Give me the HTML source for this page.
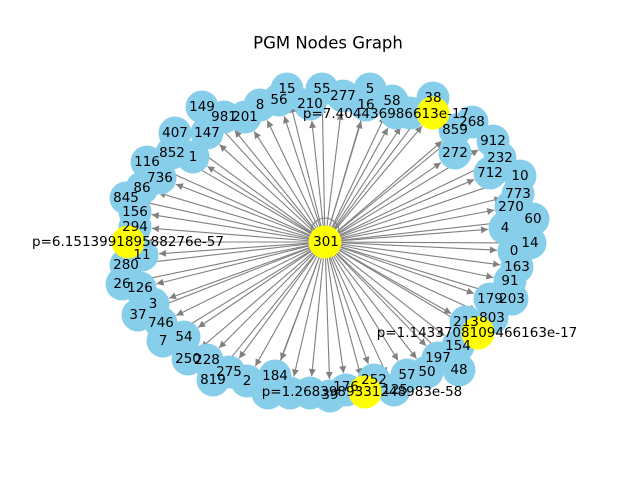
<!DOCTYPE html>
<html><head><meta charset="utf-8"><style>
body{margin:0;background:#fff;}
svg text{font-family:"DejaVu Sans","Liberation Sans",sans-serif;font-size:13.5px;fill:#000;text-anchor:middle;dominant-baseline:central;}
</style></head><body>
<svg id="s" width="640" height="480" viewBox="0 0 640 480" xmlns="http://www.w3.org/2000/svg">
<defs><marker id="a" viewBox="0 0 10 10" refX="10" refY="5" markerWidth="9" markerHeight="7" orient="auto" markerUnits="userSpaceOnUse"><path d="M0,0L10,5L0,10z" fill="#808080"/></marker></defs>
<text x="328" y="43" style="font-size:16.5px">PGM Nodes Graph</text>
<g id="lines" stroke="#808080" stroke-width="1.1"></g>
<path d="M311,232 A14,14 0 0 1 339,232" fill="none" stroke="#808080" stroke-width="1.1"/>
<g id="nodes"></g>
<g id="labels">
<text x="287" y="89">15</text><text x="322" y="89">55</text><text x="370" y="89">5</text><text x="343" y="96">277</text>
<text x="279" y="100">56</text><text x="310" y="104">210</text><text x="366" y="105">16</text><text x="392" y="101">58</text>
<text x="433" y="98">38</text><text x="260" y="105">8</text><text x="245" y="117">201</text><text x="224" y="117">981</text>
<text x="202" y="107">149</text><text x="207" y="133">147</text><text x="175" y="133">407</text><text x="172" y="153">852</text>
<text x="193" y="157">1</text><text x="147" y="162">116</text><text x="160" y="178">736</text><text x="142" y="188">86</text>
<text x="126" y="198">845</text><text x="135" y="212">156</text><text x="135" y="227">294</text>
<text x="142" y="255">11</text><text x="126" y="265">280</text><text x="122" y="284">26</text><text x="140" y="288">126</text>
<text x="153" y="304">3</text><text x="138" y="315">37</text><text x="161" y="323">746</text><text x="184" y="337">54</text>
<text x="163" y="341">7</text><text x="188" y="359">250</text><text x="207" y="360">228</text><text x="213" y="380">819</text>
<text x="229" y="372">275</text><text x="247" y="381">2</text><text x="275" y="376">184</text>
<text x="455" y="130">859</text><text x="455" y="153">272</text><text x="472" y="122">268</text><text x="493" y="141">912</text>
<text x="500" y="158">232</text><text x="490" y="173">712</text><text x="520" y="176">10</text><text x="518" y="194">773</text>
<text x="511" y="207">270</text><text x="533" y="219">60</text><text x="505" y="228">4</text><text x="530" y="243">14</text>
<text x="514" y="251">0</text><text x="517" y="267">163</text><text x="510" y="281">91</text><text x="490" y="299">179</text>
<text x="512" y="299">203</text><text x="492" y="318">803</text><text x="466" y="322">213</text><text x="458" y="346">154</text>
<text x="438" y="358">197</text><text x="459" y="370">48</text><text x="427" y="372">50</text><text x="407" y="375">57</text>
<text x="374" y="380">252</text><text x="395" y="390">125</text><text x="346" y="387">176</text><text x="330" y="395">39</text>
<text x="326" y="242">301</text>
<text x="386" y="114">p=7.404436986613e-17</text>
<text x="128" y="242">p=6.151399189588276e-57</text>
<text x="477" y="333">p=1.1433708109466163e-17</text>
<text x="362" y="392">p=1.2683989331248983e-58</text>
</g>
</svg>
<script>
var N=[[287,89],[322,89],[370,89],[343,96],[279,100],[310,104],[366,105],[392,101],[433,98],[260,105],[245,117],[224,117],[202,107],[207,133],[175,133],[172,153],[193,157],[147,162],[160,178],[142,188],[126,198],[135,212],[135,227],[142,255],[126,265],[122,284],[140,288],[153,304],[138,315],[161,323],[184,337],[163,341],[188,359],[207,360],[213,380],[229,372],[247,381],[275,376],[268,393],[290,393],[310,393],[330,396],[346,390],[394,390],[410,113],[396,113],[455,130],[455,153],[472,122],[493,141],[500,158],[490,173],[520,176],[518,194],[511,207],[533,219],[505,228],[530,243],[514,251],[517,267],[510,281],[490,299],[512,299],[492,318],[466,322],[458,346],[438,358],[459,370],[427,372],[407,375],[374,380]];
var Y=[[433,113],[128,242],[478,333],[365,392]];
var ns="http://www.w3.org/2000/svg",L=document.getElementById('lines'),G=document.getElementById('nodes');
var cx=325,cy=242;
function ln(p){var dx=p[0]-cx,dy=p[1]-cy,d=Math.hypot(dx,dy),r=17;var l=document.createElementNS(ns,'line');l.setAttribute('x1',cx);l.setAttribute('y1',cy);l.setAttribute('x2',p[0]-dx/d*r);l.setAttribute('y2',p[1]-dy/d*r);l.setAttribute('marker-end','url(#a)');L.appendChild(l);}
function c(p,f){var e=document.createElementNS(ns,'circle');e.setAttribute('cx',p[0]);e.setAttribute('cy',p[1]);e.setAttribute('r',16.5);e.setAttribute('fill',f);G.appendChild(e);}
N.forEach(ln);Y.forEach(ln);
N.forEach(function(p){c(p,'#87ceeb')});Y.forEach(function(p){c(p,'#ffff00')});c([cx,cy],'#ffff00');
</script>
</body></html>
